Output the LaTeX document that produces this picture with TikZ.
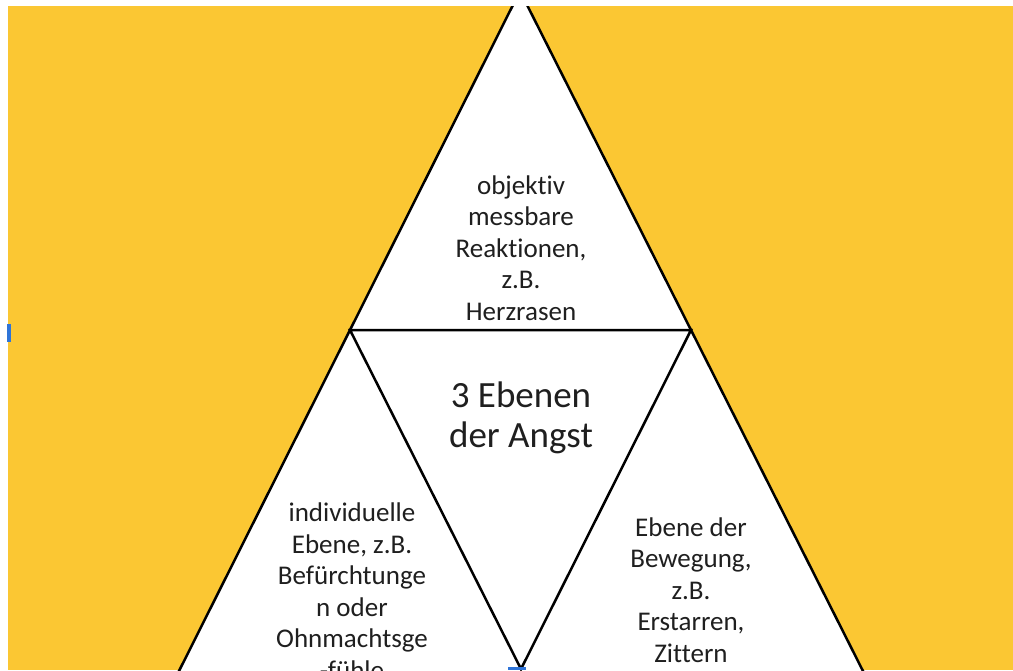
\documentclass[tikz,border=0pt]{standalone}
\usepackage{fontspec}
\setmainfont[Ligatures=NoCommon]{Carlito}
\definecolor{angstyellow}{HTML}{FBC733}
\definecolor{handleblue}{HTML}{2F74D8}

\begin{document}
\begin{tikzpicture}[x=1pt, y=-1pt]
  \tikzstyle{t} = [align=center, inner sep=0pt, text=black!88, font=\fontsize{27}{31.5}\selectfont];
  \tikzstyle{c} = [align=center, inner sep=0pt, text=black!88, font=\fontsize{37}{40}\selectfont];
  \tikzstyle{e} = [line width=2.5pt, color=black, line join=miter];

  \useasboundingbox (0,0) rectangle (1013,670);
  \fill[white] (0,0) rectangle (1013,670);
  \fill[angstyellow] (8,6) rectangle (1013,670);

  \clip (0,6) rectangle (1013,670);

  \coordinate (apex) at (520,-9);
  \coordinate (bl) at (177,675);
  \coordinate (br) at (865,675);
  \coordinate (ml) at (350,330);
  \coordinate (mr) at (691,330);
  \coordinate (mb) at (521,669);

  \fill[white] (apex) -- (bl) -- (br) -- cycle;
  \draw[e] (bl) -- (apex) -- (br);
  \draw[e] (ml) -- (mr) -- (mb) -- cycle;

  \node[t] (top) at (521,248) {objektiv\\messbare\\Reaktionen,\\z.B.\\Herzrasen};
  \node[c] (mid) at (521,418) {3 Ebenen\\der Angst};
  \node[t] (left) at (352,591) {individuelle\\Ebene, z.B.\\Befürchtunge\\n oder\\Ohnmachtsge\\-fühle};
  \node[t] (right) at (691,590) {Ebene der\\Bewegung,\\z.B.\\Erstarren,\\Zittern};

  % selection handles
  \fill[handleblue] (7,324) rectangle (11,342);
  \fill[handleblue] (508,667) rectangle (526,670);
\end{tikzpicture}
\end{document}
